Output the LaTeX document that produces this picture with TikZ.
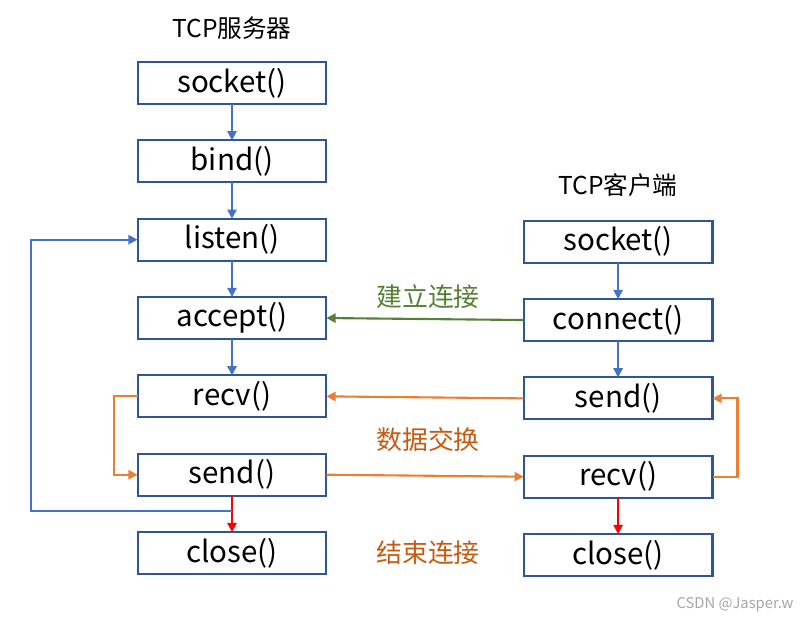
\documentclass[tikz,border=0pt]{standalone}
\usepackage{fontspec}
\setmainfont{Noto Sans CJK SC}
\usetikzlibrary{positioning,arrows.meta}
\definecolor{boxblue}{HTML}{2F5597}
\definecolor{lineblue}{HTML}{4472C4}
\definecolor{lineorange}{HTML}{ED7D31}
\definecolor{textorange}{HTML}{C55A11}
\definecolor{linegreen}{HTML}{548235}
\begin{document}
\begin{tikzpicture}[x=0.025cm, y=-0.025cm, node distance=0.908cm and 4.93cm,
		box/.style={draw=boxblue, line width=1.5pt, outer sep=0pt, minimum width=4.72cm, minimum height=1.05cm, inner sep=0pt, font=\fontsize{21}{25}\selectfont},
		tip/.style={-{Triangle[width=6.5pt,length=6.5pt]}, line width=1.5pt},
		bluearr/.style={tip, draw=lineblue},
		orarr/.style={tip, draw=lineorange},
		grarr/.style={tip, draw=linegreen},
		redarr/.style={tip, draw=red},
		title/.style={font=\fontsize{17.5}{21}\selectfont},
		phase/.style={font=\fontsize{18.4}{22}\selectfont}]
		
		\useasboundingbox (0,0) rectangle (800,620);
		
		% server
		\node[box] (ssock) at (232,83) {socket()};
		\node[box] (bind) [below=of ssock] {bind()};
		\node[box] (listen) [below=of bind] {listen()};
		\node[box] (accept) [below=of listen] {accept()};
		\node[box] (srecv) [below=of accept] {recv()};
		\node[box] (ssend) [below=of srecv] {send()};
		\node[box] (sclose) [below=of ssend] {close()};
		
		% client
		\node[box] (csock) [right=of listen, yshift=-0.05cm] {socket()};
		\node[box] (connect) [below=of csock] {connect()};
		\node[box] (csend) [below=of connect] {send()};
		\node[box] (crecv) [below=of csend] {recv()};
		\node[box] (cclose) [below=of crecv] {close()};
		
		\node[title] (stitle) at (232,28) {TCP服务器};
		\node[title] (ctitle) at (618,185) {TCP客户端};
		
		\draw[bluearr] (ssock) -- (bind);
		\draw[bluearr] (bind) -- (listen);
		\draw[bluearr] (listen) -- (accept);
		\draw[bluearr] (accept) -- (srecv);
		\draw[redarr] (ssend) -- (sclose);
		\draw[bluearr] (csock) -- (connect);
		\draw[bluearr] (connect) -- (csend);
		\draw[redarr] (crecv) -- (cclose);
		
		\draw[grarr] (connect.west) -- (accept.east);
		\draw[orarr] (csend.west) -- (srecv.east);
		\draw[orarr] (ssend.east) -- (crecv.west);
		
		\draw[orarr] (srecv.west) -- ++(-24,0) |- (ssend.west);
		\draw[orarr] (crecv.east) -- ++(25,0) |- (csend.east);
		
		\coordinate[below=0.38cm of ssend.south] (back);
		\draw[bluearr] (back) -- ++(-201,0) |- (listen.west);
		
		\node[phase, text=linegreen] (p1) at (428,297) {建立连接};
		\node[phase, text=textorange] (p2) at (428,440) {数据交换};
		\node[phase, text=textorange] (p3) at (428,553) {结束连接};
		
		\node[text=gray!70, font=\fontsize{10.5}{12}\selectfont] (mark) at (735,605) {CSDN @Jasper.w};
	\end{tikzpicture}
\end{document}
